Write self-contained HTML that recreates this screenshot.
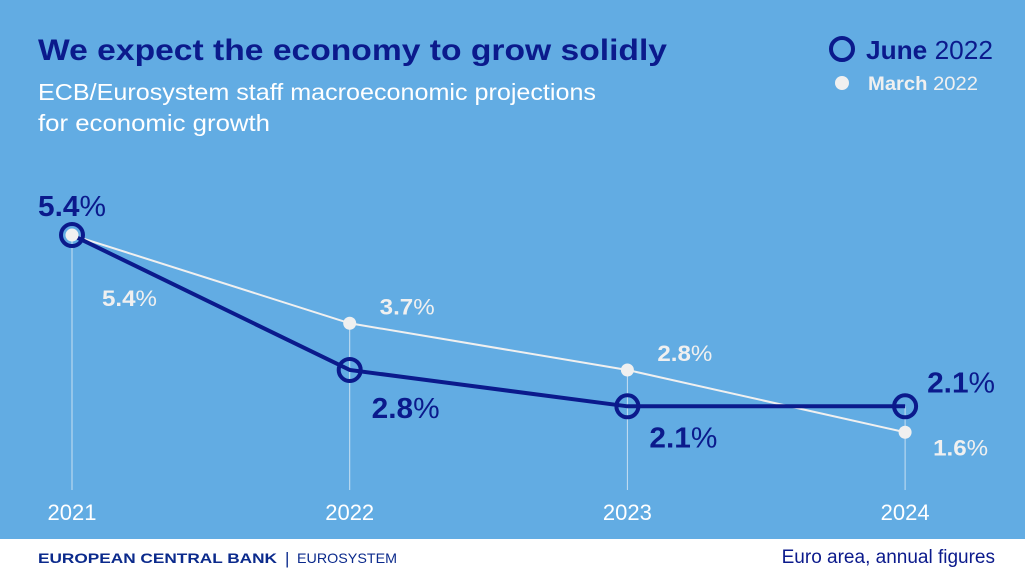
<!DOCTYPE html>
<html><head><meta charset="utf-8"><style>
body{margin:0;width:1025px;height:577px;overflow:hidden;background:#fff;font-family:"Liberation Sans",sans-serif}
svg{display:block}
</style></head><body>
<svg id="chart" width="1025" height="577" viewBox="0 0 1025 577" xmlns="http://www.w3.org/2000/svg" font-family="Liberation Sans, sans-serif">
<rect x="0" y="0" width="1025" height="539" fill="#62ace3"/>
<text x="38" y="60" font-size="30" font-weight="bold" fill="#0b1a8c" textLength="629" lengthAdjust="spacingAndGlyphs">We expect the economy to grow solidly</text>
<text x="38" y="100" font-size="23" fill="#fff" textLength="558" lengthAdjust="spacingAndGlyphs">ECB/Eurosystem staff macroeconomic projections</text>
<text x="38" y="131" font-size="23" fill="#fff" textLength="232" lengthAdjust="spacingAndGlyphs">for economic growth</text>
<g>
<circle cx="842" cy="49" r="11" fill="none" stroke="#0b1a8c" stroke-width="4"/>
<text x="866" y="59" font-size="26" fill="#0b1a8c" textLength="127" lengthAdjust="spacingAndGlyphs"><tspan font-weight="bold">June</tspan> 2022</text>
<circle cx="842" cy="83" r="7" fill="#f0f0f0"/>
<text x="868" y="90" font-size="19" fill="#f0f0f0" textLength="110" lengthAdjust="spacingAndGlyphs"><tspan font-weight="bold">March</tspan> 2022</text>
</g>
<g id="plot"></g>
<text x="38" y="563" font-size="14" font-weight="bold" fill="#0b2a8c" textLength="239" lengthAdjust="spacingAndGlyphs">EUROPEAN CENTRAL BANK</text>
<text x="285" y="564" font-size="17" fill="#0b2a8c">|</text>
<text x="297" y="563" font-size="14" fill="#0b2a8c" textLength="100" lengthAdjust="spacingAndGlyphs">EUROSYSTEM</text>
<text x="995" y="563" font-size="19" fill="#0b1a8c" text-anchor="end">Euro area, annual figures</text>
</svg>
<script>
const years = ["2021","2022","2023","2024"];
const june = [5.4, 2.8, 2.1, 2.1];
const march = [5.4, 3.7, 2.8, 1.6];
const NS="http://www.w3.org/2000/svg";
const plot=document.getElementById('plot');
function xPos(i){return 72+i*277.7;}
function yPos(v){return 515.3-v*51.9;}
function mk(tag,attrs){const e=document.createElementNS(NS,tag);for(const k in attrs)e.setAttribute(k,attrs[k]);plot.appendChild(e);return e;}
years.forEach((y,i)=>{
  const top=Math.min(yPos(june[i]),yPos(march[i]));
  const l=mk('line',{x1:xPos(i),x2:xPos(i),y1:top,y2:490,stroke:'#c8e0f2','stroke-width':1});
  
  
  const t=mk('text',{x:xPos(i),y:520,'font-size':22,fill:'#fff','text-anchor':'middle'});
  t.textContent=y;
  
  
});
const mp=mk('polyline',{points:march.map((v,i)=>xPos(i)+','+yPos(v)).join(' '),fill:'none',stroke:'#f0f0f0','stroke-width':2});


const jp=mk('polyline',{points:june.map((v,i)=>xPos(i)+','+yPos(v)).join(' '),fill:'none',stroke:'#0b1a8c','stroke-width':4});


june.forEach((v,i)=>{
  const c=mk('circle',{cx:xPos(i),cy:yPos(v),r:11,fill:'none',stroke:'#0b1a8c','stroke-width':4});
  
  
});
march.forEach((v,i)=>{
  const c=mk('circle',{cx:xPos(i),cy:yPos(v),r:6.5,fill:'#f0f0f0'});
  
  
});
const jOff=[[-34,-19,'start'],[22,48,'start'],[22,41,'start'],[22,-14,'start']];
const mOff=[[30,71,'start'],[30,-9,'start'],[30,-9,'start'],[28,23,'start']];
june.forEach((v,i)=>{
  const t=mk('text',{x:xPos(i)+jOff[i][0],y:yPos(v)+jOff[i][1],'font-size':29,fill:'#0b1a8c',textLength:68,lengthAdjust:'spacingAndGlyphs'});
  t.innerHTML='<tspan font-weight="bold">'+v.toFixed(1)+'</tspan>%';
  
  
});
march.forEach((v,i)=>{
  const t=mk('text',{x:xPos(i)+mOff[i][0],y:yPos(v)+mOff[i][1],'font-size':22,fill:'#f0f0f0',textLength:55,lengthAdjust:'spacingAndGlyphs'});
  t.innerHTML='<tspan font-weight="bold">'+v.toFixed(1)+'</tspan>%';
  
  
});
</script>
</body></html>
